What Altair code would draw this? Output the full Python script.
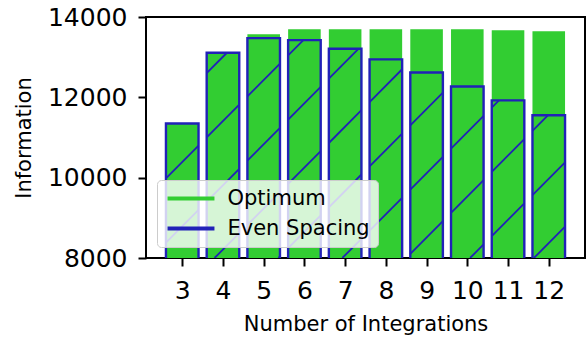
import math

import altair as alt
import pandas as pd

# ---- data ----
integrations = [3, 4, 5, 6, 7, 8, 9, 10, 11, 12]
optimum = [11350, 13120, 13570, 13695, 13695, 13695, 13695, 13695, 13670, 13645]
even_spacing = [11350, 13110, 13475, 13425, 13210, 12945, 12620, 12270, 11925, 11555]
series_names = ["Optimum", "Even Spacing"]
y_ticks = [8000, 10000, 12000, 14000]

# ---- styling ----
FONT = "DejaVu Sans"
GREEN = "#32cd32"
BLUE = "#2121b8"
BAR_HALF = 0.4
Y_MIN, Y_MAX = 8000, 14000
X_MIN, X_MAX = 2.11, 12.89

# hatch: diagonal lines y = PHASE + SLOPE * x + k * STEP (data units)
HATCH_SLOPE = 1020.0
HATCH_STEP = 1600.0
HATCH_PHASE = 931.0

bars = pd.DataFrame({"n": integrations, "optimum": optimum, "even": even_spacing})
bars["left"] = bars["n"] - BAR_HALF
bars["right"] = bars["n"] + BAR_HALF
bars["base"] = 0

# clip the hatch lines to each even-spacing bar
segments = []
for n, top in zip(integrations, even_spacing):
    x0, x1 = n - BAR_HALF, n + BAR_HALF
    lo, hi = Y_MIN, top
    k_lo = math.floor((lo - HATCH_PHASE - HATCH_SLOPE * x1) / HATCH_STEP)
    k_hi = math.ceil((hi - HATCH_PHASE - HATCH_SLOPE * x0) / HATCH_STEP)
    for k in range(k_lo, k_hi + 1):
        c = HATCH_PHASE + k * HATCH_STEP
        xa = max(x0, (lo - c) / HATCH_SLOPE)
        xb = min(x1, (hi - c) / HATCH_SLOPE)
        if xb > xa:
            segments.append({"x": xa, "y": c + HATCH_SLOPE * xa,
                             "x2": xb, "y2": c + HATCH_SLOPE * xb})
hatch = pd.DataFrame(segments)

legend_rows = pd.DataFrame({"series": series_names})

x_scale = alt.Scale(domain=[X_MIN, X_MAX], nice=False, zero=False)
y_scale = alt.Scale(domain=[Y_MIN, Y_MAX], nice=False, zero=False)

x_axis = alt.Axis(
    title="Number of Integrations", values=integrations, format="d",
    labelFontSize=25, labelFont=FONT, labelColor="black", labelPadding=12,
    tickSize=8, tickWidth=2, tickColor="black", domain=False, grid=False,
    titleFontSize=21, titleFont=FONT, titleFontWeight="normal", titleColor="black",
    titleY=72, titleBaseline="alphabetic",
)
y_axis = alt.Axis(
    title="Information", values=y_ticks, format="d",
    labelFontSize=25, labelFont=FONT, labelColor="black", labelPadding=11,
    tickSize=8, tickWidth=2, tickColor="black", domain=False, grid=False,
    titleFontSize=21, titleFont=FONT, titleFontWeight="normal", titleColor="black",
    titleX=-116, titleBaseline="alphabetic",
)

base = alt.Chart(bars)

optimum_bars = base.mark_bar(color=GREEN, clip=True).encode(
    x=alt.X("left:Q", scale=x_scale, axis=x_axis),
    x2="right:Q",
    y=alt.Y("optimum:Q", scale=y_scale, axis=y_axis),
    y2="base:Q",
)

even_fill = base.mark_bar(color=GREEN, clip=True).encode(
    x=alt.X("left:Q", scale=x_scale, axis=x_axis),
    x2="right:Q",
    y=alt.Y("even:Q", scale=y_scale, axis=y_axis),
    y2="base:Q",
)

hatch_lines = alt.Chart(hatch).mark_rule(color=BLUE, strokeWidth=1.8, clip=True).encode(
    x=alt.X("x:Q", scale=x_scale, axis=x_axis),
    x2="x2:Q",
    y=alt.Y("y:Q", scale=y_scale, axis=y_axis),
    y2="y2:Q",
)

even_edge = base.mark_bar(fill=None, stroke=BLUE, strokeWidth=2.4, clip=True).encode(
    x=alt.X("left:Q", scale=x_scale, axis=x_axis),
    x2="right:Q",
    y=alt.Y("even:Q", scale=y_scale, axis=y_axis),
    y2="base:Q",
)

# legend entries drawn as short thick horizontal strokes
legend_layer = alt.Chart(legend_rows).mark_rule(opacity=0).encode(
    x=alt.value(0),
    y=alt.value(0),
    y2=alt.value(0),
    color=alt.Color(
        "series:N",
        scale=alt.Scale(domain=series_names, range=[GREEN, BLUE]),
        sort=series_names,
        legend=alt.Legend(
            title=None, orient="none", legendX=11, legendY=163,
            symbolType="M-5,0H5", symbolStrokeWidth=4, symbolSize=88,
            symbolOffset=15.5, symbolOpacity=1,
            labelFontSize=21, labelFont=FONT, labelColor="black",
            labelOffset=26, rowPadding=8, padding=8,
            fillColor="rgba(255,255,255,0.8)", strokeColor="#cccccc",
            cornerRadius=4,
        ),
    ),
)

chart = (
    alt.layer(optimum_bars, even_fill, hatch_lines, even_edge, legend_layer)
    .properties(
        width=439, height=241,
        padding={"left": 146, "top": 17, "right": 1, "bottom": 81},
        autosize=alt.AutoSizeParams(type="none"),
        background="white",
    )
    .configure_view(stroke="black", strokeWidth=2)
)

chart.save("out.html", embed_options={"renderer": "svg", "actions": False})
